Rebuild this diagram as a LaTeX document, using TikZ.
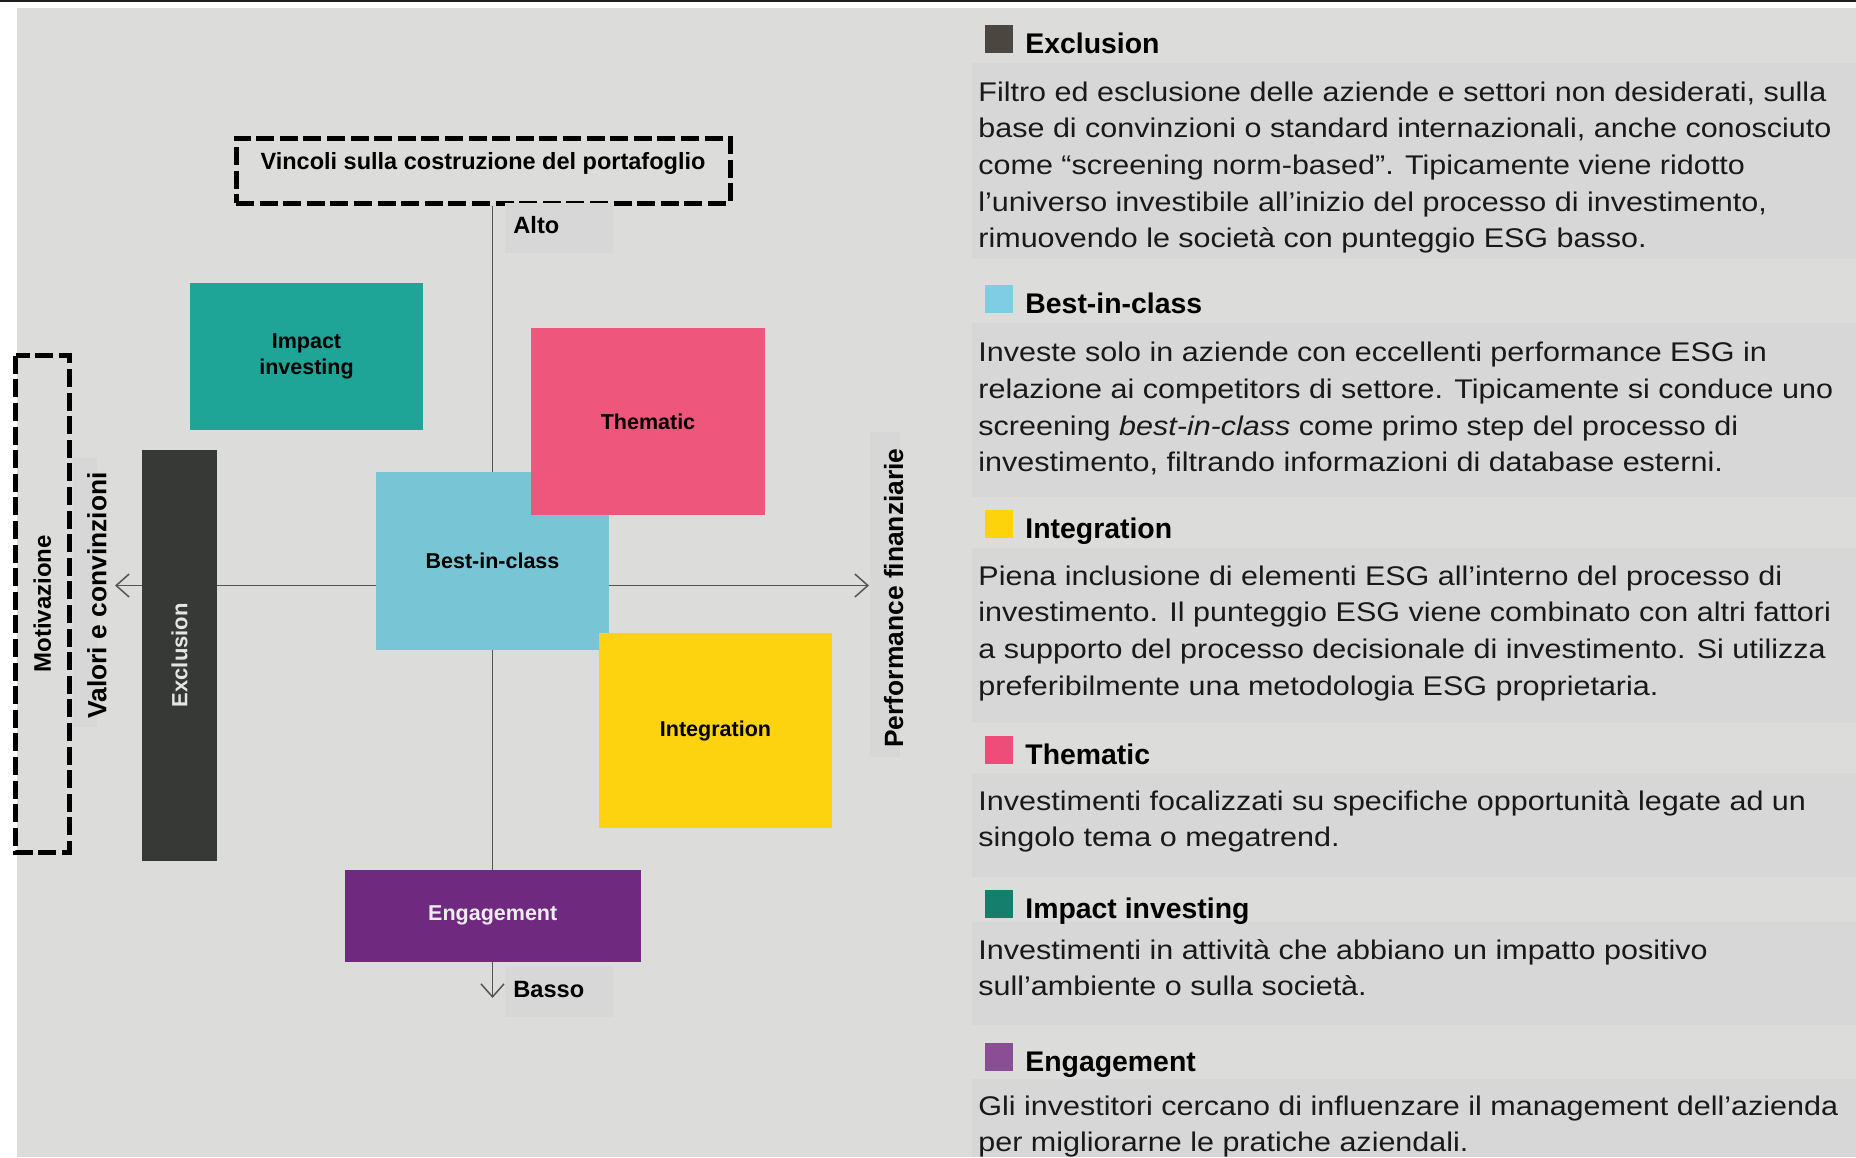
\documentclass[tikz,border=0pt]{standalone}
\usepackage{fontspec}
\setmainfont{Liberation Sans}
\newfontfamily\bodyfont{Liberation Sans}[FakeStretch=1.13]
\usetikzlibrary{arrows.meta, positioning}

\definecolor{bggray}{RGB}{220,220,219}
\definecolor{bandgray}{RGB}{215,215,215}
\definecolor{axisgray}{RGB}{85,85,85}
\definecolor{impactcol}{RGB}{30,165,152}
\definecolor{thematiccol}{RGB}{238,86,123}
\definecolor{bestcol}{RGB}{120,197,213}
\definecolor{integrcol}{RGB}{253,211,15}
\definecolor{engagecol}{RGB}{111,42,128}
\definecolor{exclcol}{RGB}{54,57,54}
% legend squares
\definecolor{exclsq}{RGB}{75,70,64}
\definecolor{bestsq}{RGB}{127,205,227}
\definecolor{integrsq}{RGB}{253,212,11}
\definecolor{thematicsq}{RGB}{238,76,121}
\definecolor{impactsq}{RGB}{22,126,108}
\definecolor{engagesq}{RGB}{138,78,148}

\tikzset{
  box/.style={rectangle, inner sep=0pt, align=center, text=black,
    font=\bfseries\fontsize{10.75}{13}\selectfont},
  dashbox/.style={draw=black, line width=2.5pt, dash pattern=on 9pt off 2.8pt,
    inner sep=0pt},
  axislabel/.style={font=\bfseries\fontsize{13.2}{15}\selectfont, rotate=90,
    inner sep=0pt},
  tag/.style={font=\bfseries\fontsize{11.8}{14}\selectfont, fill=bandgray,
    inner xsep=4pt, inner ysep=0pt, text width=46pt, align=left,
    anchor=north west},
  legsq/.style={minimum width=14pt, minimum height=13.8pt, inner sep=0pt,
    anchor=south west},
  head/.style={font=\bfseries\fontsize{14.2}{17}\selectfont, anchor=base west,
    inner sep=0pt},
  % paragraphs are placed at the baseline of their last line
  para/.style={font=\bodyfont\fontsize{13.5}{18.35}\selectfont, anchor=base west,
    align=left, inner sep=0pt, text=black!90},
  axis/.style={draw=axisgray, line width=0.75pt}
}

\begin{document}
\begin{tikzpicture}[x=0.5pt, y=-0.5pt, >={Straight Barb[length=6.5pt, width=11.5pt]}]
\useasboundingbox (0,0) rectangle (1856,1157);
\clip (0,0) rectangle (1856,1157);

% sfondo
\fill[bggray] (17,8) rectangle (1856,1157);
\fill[black!88] (0,0) rectangle (1856,2);
\fill[bandgray] (73,458) rectangle (97,727);
\fill[bandgray] (870,432) rectangle (900,757);

% riquadri tratteggiati
\node[dashbox, minimum width=247pt, text height=15.5pt, text depth=17pt,
  font=\bfseries\fontsize{11.75}{14}\selectfont] (vincoli) at (483,170.5)
  {Vincoli sulla costruzione del portafoglio};
\node[dashbox, rotate=90, minimum width=248.15pt, minimum height=26.75pt,
  font=\bfseries\fontsize{12}{14}\selectfont] (motiv) at (42.25,603.85) {Motivazione};

% assi
\coordinate (axW) at (115,585.5);
\coordinate (axE) at (869,585.5);
\coordinate (axS) at (492.5,998);
\draw[axis, <->] (axW) -- (axE);
\draw[axis, ->] (vincoli.south -| axS) -- (axS);

\node[tag, text height=14.85pt, text depth=10pt] (alto) at (505,203) {Alto};
\node[tag, text height=15.65pt, text depth=9.7pt] (basso) at (505,966) {Basso};

% strategie
\node[box, fill=impactcol, minimum width=116.5pt, minimum height=73.5pt] (impact)
  at (306.5,356.5) {Impact\\investing};
\node[box, fill=exclcol, rotate=90, minimum width=205.75pt, minimum height=37.8pt,
  text=white!90!black, font=\bfseries\fontsize{11}{13}\selectfont] (excl)
  at (179.5,655.25) {Exclusion};
\node[box, fill=bestcol, minimum width=116.5pt, minimum height=89.25pt] (best)
  at (492.5,560.75) {Best-in-class};
\node[box, fill=thematiccol, minimum width=117pt, minimum height=93.5pt] (thematic)
  at (648,421.5) {Thematic};
\node[box, fill=integrcol, minimum width=116.5pt, minimum height=97.5pt] (integr)
  at (715.5,730.5) {Integration};
\node[box, fill=engagecol, text=white!93!black, minimum width=147.75pt,
  minimum height=46.2pt] (engage) at (492.75,915.8) {Engagement};

\node[axislabel] (valori) at (97,595.4) {Valori e convinzioni};
\node[axislabel] (perf) at (893.7,598) {Performance finanziarie};

% legenda
\fill[bandgray] (971.7,63.3) rectangle (1856,258.5);
\fill[bandgray] (971.7,323.3) rectangle (1856,497);
\fill[bandgray] (971.7,548.3) rectangle (1856,723);
\fill[bandgray] (971.7,772.5) rectangle (1856,877);
\fill[bandgray] (971.7,922) rectangle (1856,1025);
\fill[bandgray] (971.7,1078.6) rectangle (1856,1157);

\node[legsq, fill=exclsq] (sqexcl) at (985,53) {};
\node[head] (hexcl) at (1025,53) {Exclusion};
\node[para] (pexcl) at (978,247.8) {Filtro ed esclusione delle aziende e settori non desiderati, sulla\\
  base di convinzioni o standard internazionali, anche conosciuto\\
  come “screening norm-based”. Tipicamente viene ridotto\\
  l’universo investibile all’inizio del processo di investimento,\\
  rimuovendo le società con punteggio ESG basso.};

\node[legsq, fill=bestsq] (sqbest) at (985,313) {};
\node[head] (hbest) at (1025,313) {Best-in-class};
\node[para] (pbest) at (978,471.8) {Investe solo in aziende con eccellenti performance ESG in\\
  relazione ai competitors di settore. Tipicamente si conduce uno\\
  screening \textit{best-in-class} come primo step del processo di\\
  investimento, filtrando informazioni di database esterni.};

\node[legsq, fill=integrsq] (sqintegr) at (985,538) {};
\node[head] (hintegr) at (1025,538) {Integration};
\node[para] (pintegr) at (978,695.1) {Piena inclusione di elementi ESG all’interno del processo di\\
  investimento. Il punteggio ESG viene combinato con altri fattori\\
  a supporto del processo decisionale di investimento. Si utilizza\\
  preferibilmente una metodologia ESG proprietaria.};

\node[legsq, fill=thematicsq] (sqthematic) at (985,764) {};
\node[head] (hthematic) at (1025,764) {Thematic};
\node[para] (pthematic) at (978,846.7) {Investimenti focalizzati su specifiche opportunità legate ad un\\
  singolo tema o megatrend.};

\node[legsq, fill=impactsq] (sqimpact) at (985,918) {};
\node[head] (himpact) at (1025,918) {Impact investing};
\node[para] (pimpact) at (978,995.7) {Investimenti in attività che abbiano un impatto positivo\\
  sull’ambiente o sulla società.};

\node[legsq, fill=engagesq] (sqengage) at (985,1071) {};
\node[head] (hengage) at (1025,1071) {Engagement};
\node[para] (pengage) at (978,1151.7) {Gli investitori cercano di influenzare il management dell’azienda\\
  per migliorarne le pratiche aziendali.};
\end{tikzpicture}
\end{document}
